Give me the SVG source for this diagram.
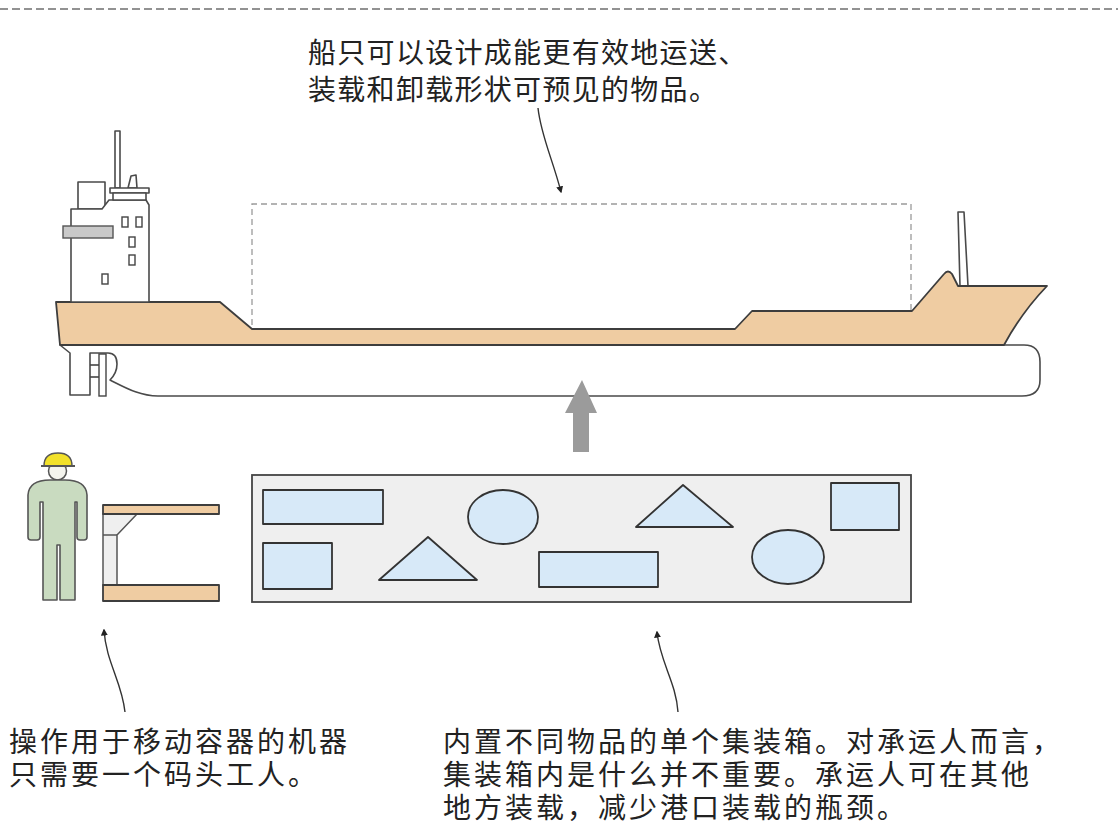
<svg xmlns="http://www.w3.org/2000/svg" width="1118" height="832" viewBox="0 0 1118 832">
  <style>
    .txt { font-family: "Liberation Sans", "Noto Sans CJK SC", sans-serif; font-size: 28px; fill: #222; letter-spacing: 3px; }
    .txt-top { letter-spacing: 1.3px; }
    .line { fill: none; stroke: #444; stroke-width: 1.6; stroke-linejoin: round; }
    .tan { fill: #efcca2; stroke: #3d3d3d; stroke-width: 1.8; stroke-linejoin: round; }
    .white { fill: #ffffff; stroke: #4a4a4a; stroke-width: 1.6; stroke-linejoin: round; }
    .cargo { fill: #d7e9f8; stroke: #333; stroke-width: 1.8; stroke-linejoin: round; }
    .win { fill: #fff; stroke: #444; stroke-width: 1.4; }
    .note { fill: none; stroke: #333; stroke-width: 1.4; marker-end: url(#tip); }
  </style>
  <defs>
    <marker id="tip" viewBox="0 0 10 10" refX="8" refY="5" markerWidth="7" markerHeight="7" orient="auto-start-reverse" markerUnits="userSpaceOnUse">
      <path d="M0,0 L10,5 L0,10 Z" fill="#222"/>
    </marker>
  </defs>

  <rect width="1118" height="832" fill="#ffffff"/>

  <!-- page separator -->
  <line x1="0" y1="9" x2="1118" y2="9" stroke="#6f6f6f" stroke-width="1.6" stroke-dasharray="8 4"/>

  <!-- ship -->
  <g id="ship">
    <!-- bow mast -->
    <path class="white" d="M958,212 L964,212 L968,286 L960,286 Z"/>
    <!-- hull -->
    <path class="white" d="M60,345 L1024,345 Q1040,345 1040,362 L1040,380 Q1040,396 1022,396 L158,396 C140,396 126,388 110,380 Q117,373 117,364 Q117,353 108,353 L90,353 L90,395 L70,395 L70,353 Z"/>
    <!-- rudder and propeller -->
    <rect class="win" x="99" y="354" width="7" height="42"/>
    <line class="line" x1="90" y1="365" x2="99" y2="365"/>
    <line class="line" x1="90" y1="377" x2="99" y2="377"/>
    <!-- deck band -->
    <path class="tan" d="M56,302 L220,302 L252,329 L735,329 L752,311 L912,311 L944,274 Q948,269 952,274 L958,286 L1047,286 Q1022,312 1004,345 L60,345 Z"/>
    <!-- superstructure -->
    <rect class="white" x="115" y="131" width="5" height="57"/>
    <path class="white" d="M128,188 L131,176 L136,175 L137,188 Z"/>
    <rect class="white" x="78" y="182" width="27" height="27"/>
    <path class="white" d="M71,302 L71,209 L102,209 L109,200 L146,200 L149,205 L149,302 Z"/>
    <rect class="white" x="110" y="188" width="39" height="5"/>
    <rect class="white" x="113" y="193" width="33" height="7"/>
    <rect x="63" y="226" width="50" height="12" fill="#c9c9c9" stroke="#555" stroke-width="1.4"/>
    <rect class="win" x="122" y="217" width="6" height="10"/>
    <rect class="win" x="136" y="217" width="6" height="10"/>
    <rect class="win" x="129" y="237" width="6" height="10"/>
    <rect class="win" x="129" y="255" width="6" height="10"/>
    <rect class="win" x="102" y="274" width="6" height="10"/>
  </g>

  <!-- cargo space outline -->
  <g id="hold">
    <path d="M252,325 L252,204 L911,204 L911,310" fill="none" stroke="#9a9a9a" stroke-width="1.3" stroke-dasharray="6 4"/>
  </g>

  <!-- loading direction -->
  <g id="lift">
    <polygon points="582,380 597,413 589,413 589,452 573,452 573,413 565,413" fill="#9b9b9b"/>
  </g>

  <!-- dock worker -->
  <g id="worker">
    <circle cx="57.5" cy="471" r="9" fill="#f4f4ee" stroke="#555" stroke-width="1.5"/>
    <path d="M44,466 Q44,453 58,453 Q72,453 72,466 Z" fill="#f2e12a" stroke="#555" stroke-width="1.4"/>
    <line x1="41" y1="466" x2="75" y2="466" stroke="#555" stroke-width="2"/>
    <path d="M50,480 L65,480 Q86,480 87,495 L87,537 Q87,540 84,540 L80,540 Q77,540 77,537 L77,502 L75,502 L75,600 L60,600 L60,545 L57,545 L57,600 L43,600 L43,502 L40,502 L40,537 Q40,540 37,540 L31,540 Q28,540 28,537 L28,495 Q29,480 50,480 Z" fill="#c9dbc0" stroke="#555" stroke-width="1.6" stroke-linejoin="round"/>
  </g>

  <!-- container spreader -->
  <g id="spreader">
    <path d="M103,514 L117,514 L137,514 L117,535 L117,585 L103,585 Z" fill="#efefef" stroke="#555" stroke-width="1.5" stroke-linejoin="round"/>
    <line x1="103" y1="535" x2="117" y2="535" stroke="#555" stroke-width="1.5"/>
    <rect class="tan" x="103" y="505" width="116" height="9" stroke-width="1.5"/>
    <rect class="tan" x="103" y="585" width="116" height="16" stroke-width="1.5"/>
  </g>

  <!-- container with mixed goods -->
  <g id="container">
    <rect x="252" y="475" width="659" height="127" fill="#efefef" stroke="#444" stroke-width="1.8"/>
    <rect class="cargo" x="263" y="490" width="120" height="34"/>
    <rect class="cargo" x="263" y="543" width="69" height="46"/>
    <polygon class="cargo" points="379,580 428,537 477,580"/>
    <ellipse class="cargo" cx="503" cy="517" rx="35" ry="27"/>
    <polygon class="cargo" points="636,527 683,485 733,527"/>
    <rect class="cargo" x="539" y="552" width="119" height="35"/>
    <ellipse class="cargo" cx="788" cy="557" rx="36" ry="27"/>
    <rect class="cargo" x="831" y="483" width="68" height="47"/>
  </g>

  <!-- annotation leaders -->
  <g id="connectors">
    <path class="note" d="M538,108 C541,136 553,160 561,192"/>
    <path class="note" d="M125,712 C122,682 106,662 104,630"/>
    <path class="note" d="M678,712 C676,682 660,662 657,632"/>
  </g>

  <g id="label-ship">
    <text class="txt txt-top" x="308" y="63">船只可以设计成能更有效地运送、<tspan x="308" y="100">装载和卸载形状可预见的物品。</tspan></text>
  </g>
  <g id="label-worker">
    <text class="txt" x="9" y="752">操作用于移动容器的机器<tspan x="9" y="785">只需要一个码头工人。</tspan></text>
  </g>
  <g id="label-container">
    <text class="txt" x="443" y="752">内置不同物品的单个集装箱。对承运人而言，<tspan x="443" y="785">集装箱内是什么并不重要。承运人可在其他</tspan><tspan x="443" y="818">地方装载，减少港口装载的瓶颈。</tspan></text>
  </g>
</svg>
